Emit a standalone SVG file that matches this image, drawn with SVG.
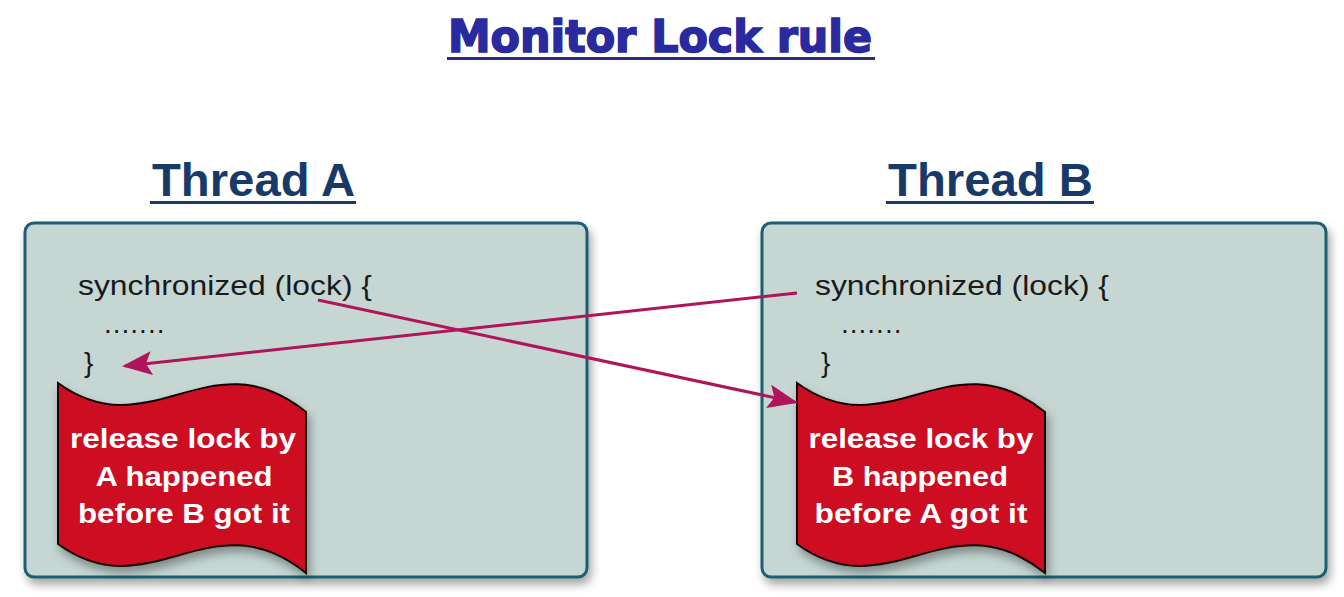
<svg xmlns="http://www.w3.org/2000/svg" width="1344" height="597" viewBox="0 0 1344 597">
<style>
.title{font-family:"DejaVu Sans","Liberation Sans",sans-serif;font-weight:bold;font-size:44px;fill:#2a2aa0;stroke:#2a2aa0;stroke-width:1.6}
.thread{font-family:"Liberation Sans",Arial,sans-serif;font-weight:bold;font-size:46px;fill:#173a68}
.code{font-family:"Liberation Sans",Arial,sans-serif;font-size:28px;fill:#1a1a1a}
.flagtxt{font-family:"Liberation Sans",Arial,sans-serif;font-weight:bold;font-size:28px;fill:#ffffff;text-anchor:middle}
.box{fill:#c5d6d3;stroke:#1d5f70;stroke-width:3}
.flag{fill:#cc0a22;stroke:#140505;stroke-width:2}
.conn{stroke:#b0145a;stroke-width:3;fill:none}
</style>
<defs>
<filter id="sh" x="-10%" y="-10%" width="125%" height="130%">
<feDropShadow dx="3" dy="6" stdDeviation="5" flood-color="#000" flood-opacity="0.35"/>
</filter>
<marker id="ah" markerWidth="10" markerHeight="8" refX="9" refY="4" orient="auto" markerUnits="strokeWidth">
<path d="M0,0 L10,4 L0,8 L2,4 z" fill="#b0145a"/>
</marker>
</defs>
<rect width="1344" height="597" fill="#ffffff"/>
<g id="title">
<text class="title" x="448" y="52" textLength="424" lengthAdjust="spacingAndGlyphs">Monitor Lock rule</text>
<rect x="447" y="57" width="428" height="3" fill="#2a2a80"/>
</g>
<g id="threadA">
<text class="thread" x="152" y="196" textLength="203" lengthAdjust="spacingAndGlyphs">Thread A</text>
<rect x="150" y="201" width="206" height="3" fill="#173a68"/>
<rect class="box" x="25" y="223" width="562" height="354" rx="9" filter="url(#sh)"/>
<text class="code" x="78" y="295" textLength="294" lengthAdjust="spacingAndGlyphs">synchronized (lock) {</text>
<text class="code" x="104" y="333" letter-spacing="1">.......</text>
<text class="code" x="84" y="372">}</text>
</g>
<g id="flagA">
<path class="flag" filter="url(#sh)" d="M58,383 C150,450 210,335 306,412 L306,573 C210,496 150,611 58,544 Z"/>
<text class="flagtxt" x="183" y="448" textLength="226" lengthAdjust="spacingAndGlyphs">release lock by</text>
<text class="flagtxt" x="184" y="486" textLength="177" lengthAdjust="spacingAndGlyphs">A happened</text>
<text class="flagtxt" x="184" y="523" textLength="212" lengthAdjust="spacingAndGlyphs">before B got it</text>
</g>
<g id="threadB">
<text class="thread" x="888" y="196" textLength="205" lengthAdjust="spacingAndGlyphs">Thread B</text>
<rect x="886" y="201" width="208" height="3" fill="#173a68"/>
<rect class="box" x="762" y="223" width="564" height="354" rx="9" filter="url(#sh)"/>
<text class="code" x="815" y="295" textLength="294" lengthAdjust="spacingAndGlyphs">synchronized (lock) {</text>
<text class="code" x="841" y="333" letter-spacing="1">.......</text>
<text class="code" x="821" y="372">}</text>
</g>
<g id="flagB">
<path class="flag" filter="url(#sh)" d="M797,383 C889,450 949,335 1045,412 L1045,573 C949,496 889,611 797,544 Z"/>
<text class="flagtxt" x="921" y="448" textLength="225" lengthAdjust="spacingAndGlyphs">release lock by</text>
<text class="flagtxt" x="920" y="486" textLength="176" lengthAdjust="spacingAndGlyphs">B happened</text>
<text class="flagtxt" x="921" y="523" textLength="213" lengthAdjust="spacingAndGlyphs">before A got it</text>
</g>
<g id="connectors">
<line class="conn" x1="318" y1="300" x2="795" y2="402" marker-end="url(#ah)"/>
<line class="conn" x1="797" y1="293" x2="125" y2="366" marker-end="url(#ah)"/>
</g>
</svg>
